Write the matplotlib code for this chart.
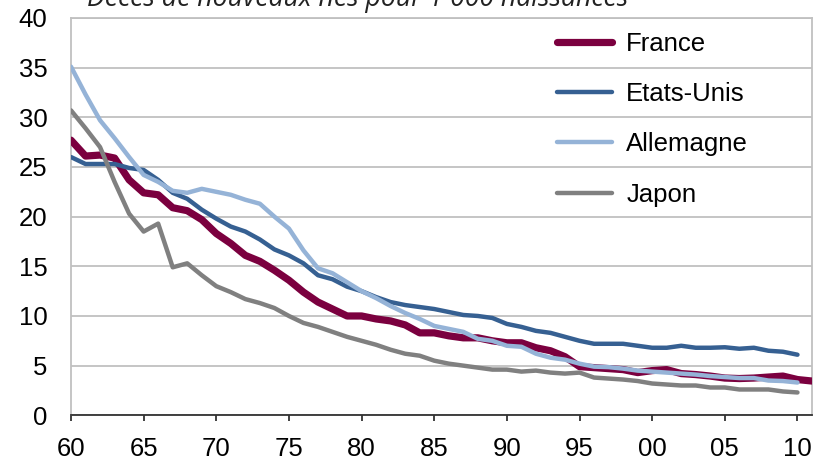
import numpy as np
import matplotlib
matplotlib.use('Agg')
import matplotlib.pyplot as plt

plt.rcParams['font.family'] = ['Liberation Sans', 'DejaVu Sans']

# infant deaths per 1 000 births
years = np.arange(1960, 2011)
years_fr = np.arange(1960, 2012)

france = [27.7, 26.1, 26.2, 25.9, 23.7, 22.4, 22.2, 20.9, 20.6, 19.7,
          18.3, 17.3, 16.1, 15.5, 14.6, 13.6, 12.4, 11.4, 10.7, 10.0,
          10.0, 9.7, 9.5, 9.1, 8.3, 8.3, 8.0, 7.8, 7.8, 7.5,
          7.3, 7.3, 6.8, 6.5, 5.9, 4.9, 4.8, 4.7, 4.6, 4.3,
          4.5, 4.6, 4.2, 4.1, 3.95, 3.75, 3.7, 3.75, 3.85, 3.95,
          3.6, 3.45]
usa = [26.0, 25.3, 25.3, 25.3, 24.9, 24.7, 23.7, 22.4, 21.8, 20.7,
       19.8, 19.0, 18.5, 17.7, 16.7, 16.1, 15.3, 14.1, 13.7, 12.95,
       12.5, 11.9, 11.4, 11.1, 10.9, 10.7, 10.4, 10.1, 10.0, 9.8,
       9.2, 8.9, 8.5, 8.3, 7.9, 7.5, 7.2, 7.2, 7.2, 7.0,
       6.8, 6.8, 7.0, 6.8, 6.8, 6.85, 6.7, 6.8, 6.5, 6.4,
       6.1]
germany = [35.1, 32.3, 29.7, 27.9, 26.0, 24.2, 23.5, 22.6, 22.4, 22.8,
           22.5, 22.2, 21.7, 21.3, 20.0, 18.8, 16.6, 14.8, 14.3, 13.4,
           12.5, 11.8, 11.0, 10.3, 9.7, 9.0, 8.7, 8.4, 7.7, 7.5,
           7.0, 6.9, 6.2, 5.8, 5.6, 5.2, 4.9, 4.85, 4.7, 4.5,
           4.4, 4.3, 4.2, 4.1, 3.95, 3.85, 3.75, 3.75, 3.5, 3.45,
           3.3]
japan = [30.7, 28.9, 27.0, 23.5, 20.3, 18.5, 19.3, 14.9, 15.3, 14.1,
         13.0, 12.4, 11.7, 11.3, 10.8, 10.0, 9.3, 8.9, 8.4, 7.9,
         7.5, 7.1, 6.6, 6.2, 6.0, 5.5, 5.2, 5.0, 4.8, 4.6,
         4.6, 4.4, 4.5, 4.3, 4.2, 4.3, 3.8, 3.7, 3.6, 3.45,
         3.2, 3.1, 3.0, 3.0, 2.8, 2.8, 2.6, 2.6, 2.6, 2.4,
         2.3]

xticks = np.arange(1960, 2011, 5)
xlabels = ['60', '65', '70', '75', '80', '85', '90', '95', '00', '05', '10']
title = "Décès de nouveaux nés pour 1 000 naissances"

W, H = 826, 461
fig = plt.figure(figsize=(W / 100, H / 100), dpi=100)
ax = fig.add_axes([71 / W, (H - 415.3) / H, (812 - 71) / W, (415.3 - 18) / H])

grid_c = '#C0C0C0'
ax.plot(years_fr, france, color='#7B003F', lw=5.2, solid_joinstyle='round',
        solid_capstyle='round', label='France', zorder=3)
ax.plot(years, usa, color='#366092', lw=3.2, solid_joinstyle='round',
        solid_capstyle='round', label='Etats-Unis', zorder=4)
ax.plot(years, germany, color='#95B3D7', lw=3.2, solid_joinstyle='round',
        solid_capstyle='round', label='Allemagne', zorder=5)
ax.plot(years, japan, color='#808080', lw=3.2, solid_joinstyle='round',
        solid_capstyle='round', label='Japon', zorder=6)

ax.set_xlim(1960, 2011)
ax.set_ylim(0, 40)
ax.set_yticks(np.arange(0, 41, 5))
ax.set_xticks(xticks)
ax.set_xticklabels(xlabels)
ax.yaxis.grid(True, color=grid_c, lw=1.3)
ax.set_axisbelow(True)

ax.tick_params(axis='y', length=0, pad=17, labelsize=18.5)
ax.tick_params(axis='x', length=4, width=1.3, direction='out', color='#333333',
               pad=11.5, labelsize=18.5)

for s in ['left', 'right', 'top']:
    ax.spines[s].set_color(grid_c)
    ax.spines[s].set_linewidth(1.3)
ax.spines['bottom'].set_color('#333333')
ax.spines['bottom'].set_linewidth(1.3)

leg = ax.legend(loc='upper left', bbox_to_anchor=(557 / W, 1 - 32 / H),
                bbox_transform=fig.transFigure, frameon=False, fontsize=18.5,
                handlelength=2.15, handletextpad=0.55, labelspacing=1.02,
                borderpad=0, borderaxespad=0)
for ln in leg.get_lines():
    ln.set_solid_capstyle('round')

fig.text(87 / W, 1 - 6 / H, title, fontsize=19.2, style='italic',
         family=['Open Sans', 'DejaVu Sans'], color='#222222',
         ha='left', va='baseline')

fig.savefig('out.png', dpi=100)
